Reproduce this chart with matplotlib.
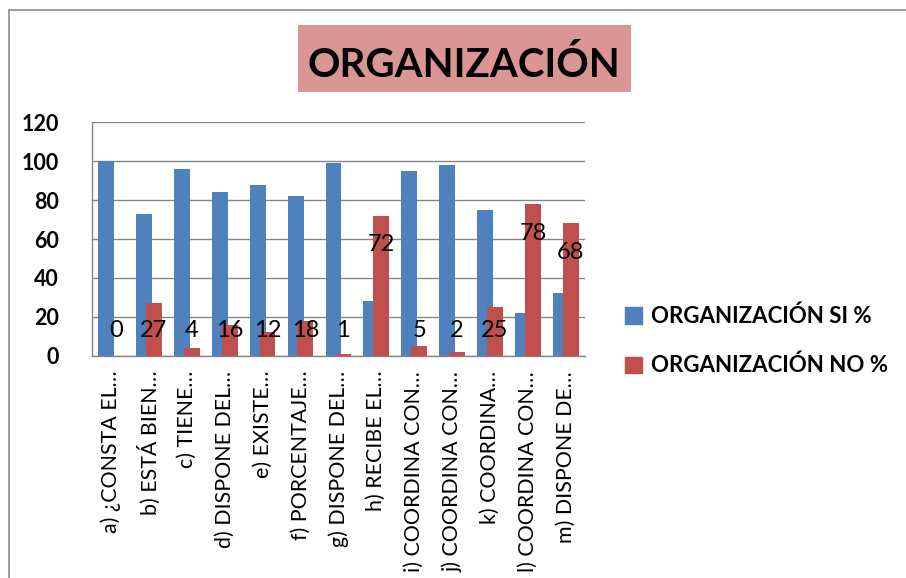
import matplotlib
matplotlib.use("Agg")
import matplotlib.pyplot as plt
from matplotlib.patches import Rectangle, Patch

plt.rcParams['font.family'] = ['Lato', 'DejaVu Sans']

# data
etiquetas = ['a) ¿CONSTA EL…', 'b) ESTÁ BIEN…', 'c) TIENE…', 'd) DISPONE DEL…',
             'e) EXISTE…', 'f) PORCENTAJE…', 'g) DISPONE DEL…', 'h) RECIBE EL…',
             'i) COORDINA CON…', 'j) COORDINA CON…', 'k) COORDINA…',
             'l) COORDINA CON…', 'm) DISPONE DE…']
si = [100, 73, 96, 84, 88, 82, 99, 28, 95, 98, 75, 22, 32]
no = [0, 27, 4, 16, 12, 18, 1, 72, 5, 2, 25, 78, 68]
serie_si = 'ORGANIZACIÓN SI %'
serie_no = 'ORGANIZACIÓN NO %'
titulo = 'ORGANIZACIÓN'

azul = '#4F81BD'
rojo = '#C0504D'
gris = '#868686'

W, H = 906, 578
fig = plt.figure(figsize=(9.06, 5.78), dpi=100)
ax = fig.add_axes([0.1015, 0.3846, 0.544, 0.4038])

x = list(range(len(si)))
w = 0.42
ax.bar([i - 0.13 for i in x], si, width=w, color=azul, label=serie_si, zorder=2)
ax.bar([i + 0.13 for i in x], no, width=w, color=rojo, label=serie_no, zorder=3)

for i, v in enumerate(no):
    ax.text(i + 0.13, max(v - 15, 13), str(v), ha='center', va='center',
            fontsize=17, color='black', zorder=4)

ax.set_xlim(-0.5, 12.5)
ax.set_ylim(0, 120)
ax.set_yticks(range(0, 121, 20))
ax.yaxis.grid(True, color=gris, linewidth=1.0, zorder=0)
ax.set_axisbelow(True)
for s in ['top', 'right']:
    ax.spines[s].set_visible(False)
for s in ['left', 'bottom']:
    ax.spines[s].set_color(gris)
    ax.spines[s].set_linewidth(1.0)
ax.tick_params(axis='y', length=0, pad=24, labelsize=15.5)
for t in ax.get_yticklabels():
    t.set_fontweight('bold')
ax.set_xticks(x)
ax.set_xticklabels(etiquetas, rotation=90, fontsize=15.4)
ax.tick_params(axis='x', length=0, pad=11)

# title box
fig.patches.append(Rectangle((298 / W, 1 - 92 / H), 333 / W, 67 / H,
                             transform=fig.transFigure, facecolor='#D99694',
                             edgecolor='none', zorder=0))
fig.text(464 / W, 1 - 77 / H, titulo, ha='center', va='baseline', fontsize=29,
         fontweight='bold')

handles = [Patch(color=azul), Patch(color=rojo)]
fig.legend(handles, [serie_si, serie_no], loc='center left',
           bbox_to_anchor=(0.668, 0.41), frameon=False, handlelength=0.75,
           handleheight=0.75, handletextpad=0.4, labelspacing=1.25,
           prop={'weight': 'bold', 'size': 16})

# outer border of the chart area
fig.patches.append(Rectangle((9 / W, -0.1), 1.2, 1 - 10 / H + 0.1,
                             transform=fig.transFigure, fill=False,
                             edgecolor='#8c8c8c', linewidth=1.2))

fig.savefig('out.png', dpi=100)
